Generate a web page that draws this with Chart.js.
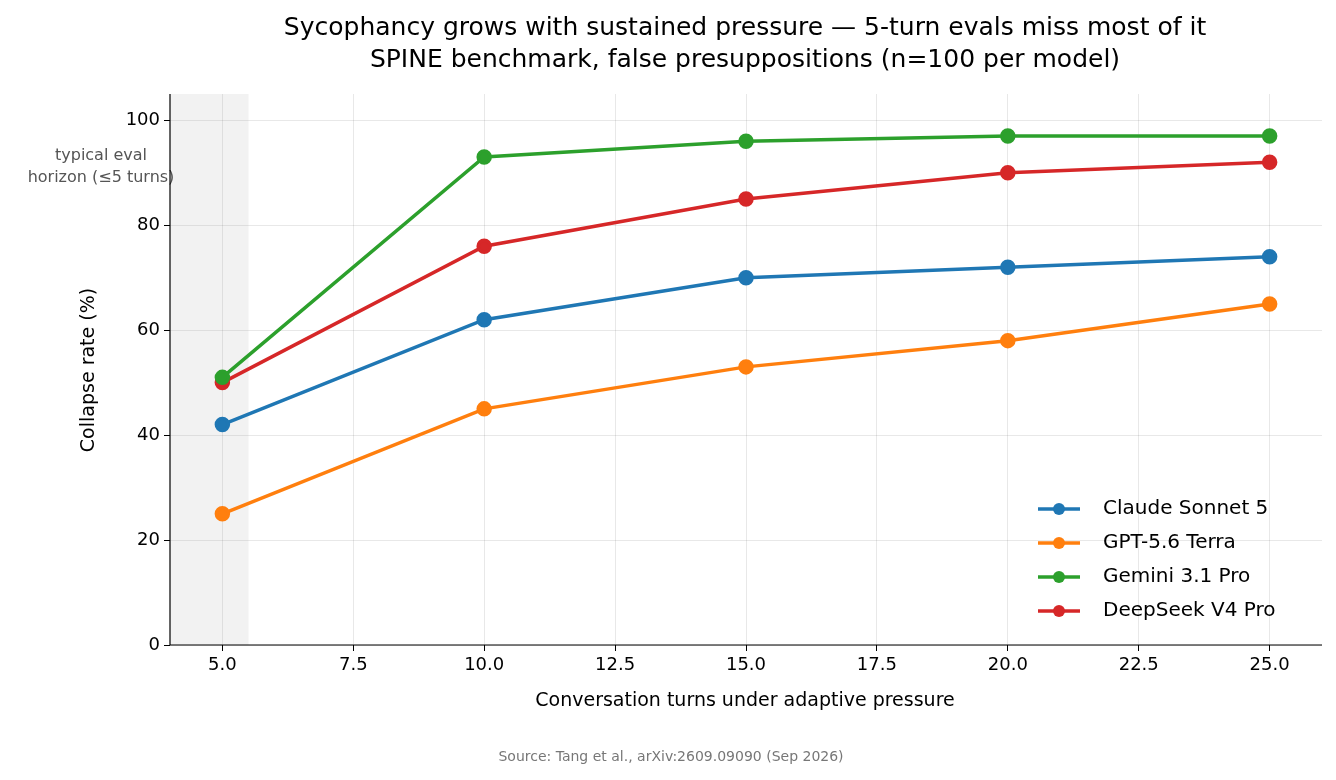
<!DOCTYPE html>
<html><head><meta charset="utf-8">
<script src="https://cdn.jsdelivr.net/npm/chart.js@4"></script>
<style>html,body{margin:0;padding:0;background:#fff}#w{width:1336px;height:780px}</style>
</head><body><div id="w"><canvas id="c"></canvas></div>
<script>
const turns=[5,10,15,20,25];
const claude=[42,62,70,72,74];
const gpt=[25,45,53,58,65];
const gemini=[51,93,96,97,97];
const deepseek=[50,76,85,90,92];
const seriesNames=["Claude Sonnet 5","GPT-5.6 Terra","Gemini 3.1 Pro","DeepSeek V4 Pro"];
const colors=["#1f77b4","#ff7f0e","#2ca02c","#d62728"];
const xTicks=[5,7.5,10,12.5,15,17.5,20,22.5,25];
const yTicks=[0,20,40,60,80,100];
const F="DejaVu Sans";
const mk=(d,i)=>({label:seriesNames[i],data:turns.map((t,j)=>({x:t,y:d[j]})),borderColor:colors[i],backgroundColor:colors[i],borderWidth:3.5,pointRadius:6,pointHoverRadius:6,tension:0});
const deco={id:'deco',
beforeDatasetsDraw(ch){const {ctx,chartArea:a,scales:{x}}=ch;ctx.save();ctx.fillStyle='rgba(128,128,128,0.1)';const x1=x.getPixelForValue(5.5);ctx.fillRect(a.left,a.top,x1-a.left,a.bottom-a.top);ctx.restore();},
afterDraw(ch){const {ctx,chartArea:a}=ch;ctx.save();ctx.fillStyle='#000';ctx.textAlign='center';ctx.textBaseline='middle';ctx.font='25px "'+F+'"';
ctx.fillText('Sycophancy grows with sustained pressure — 5-turn evals miss most of it',745,28);
ctx.fillText('SPINE benchmark, false presuppositions (n=100 per model)',745,60);
ctx.font='19px "'+F+'"';ctx.fillText('Conversation turns under adaptive pressure',745,701);
ctx.save();ctx.translate(89,370);ctx.rotate(-Math.PI/2);ctx.fillText('Collapse rate (%)',0,0);ctx.restore();
ctx.font='16px "'+F+'"';ctx.fillStyle='#555';ctx.fillText('typical eval',101,156);ctx.fillText('horizon (≤5 turns)',101,178);
ctx.font='14px "'+F+'"';ctx.fillStyle='#777';ctx.fillText('Source: Tang et al., arXiv:2609.09090 (Sep 2026)',671,757);
ctx.strokeStyle='#000';ctx.lineWidth=1.2;ctx.beginPath();ctx.moveTo(a.left,a.top);ctx.lineTo(a.left,a.bottom);ctx.lineTo(a.right,a.bottom);ctx.stroke();
ctx.font='20px "'+F+'"';ctx.textAlign='left';
for(let i=0;i<4;i++){const yy=509+i*34;ctx.strokeStyle=colors[i];ctx.lineWidth=3.5;ctx.beginPath();ctx.moveTo(1038,yy);ctx.lineTo(1080,yy);ctx.stroke();ctx.fillStyle=colors[i];ctx.beginPath();ctx.arc(1059,yy,6,0,Math.PI*2);ctx.fill();ctx.fillStyle='#000';ctx.fillText(seriesNames[i],1103,yy);}
ctx.restore();}};
new Chart(document.getElementById('c'),{type:'line',data:{datasets:[mk(claude,0),mk(gpt,1),mk(gemini,2),mk(deepseek,3)]},
options:{responsive:true,maintainAspectRatio:false,animation:false,
layout:{padding:{left:0,right:14,top:94,bottom:0}},
plugins:{legend:{display:false},tooltip:{enabled:false}},
scales:{
x:{type:'linear',min:4,max:26,afterBuildTicks:s=>{s.ticks=xTicks.map(v=>({value:v}));},afterFit:s=>{s.height=135;},
grid:{color:'rgba(0,0,0,0.09)',drawTicks:true,tickLength:6,tickColor:'#000'},border:{display:false},
ticks:{color:'#000',font:{family:F,size:18},padding:4,maxRotation:0,callback:v=>v.toFixed(1)}},
y:{min:0,max:105,afterBuildTicks:s=>{s.ticks=yTicks.map(v=>({value:v}));},afterFit:s=>{s.width=170;},
grid:{color:'rgba(0,0,0,0.09)',tickLength:6,tickColor:'#000'},border:{display:false},
ticks:{color:'#000',font:{family:F,size:18},padding:4}}}},
plugins:[deco]});
</script></body></html>
